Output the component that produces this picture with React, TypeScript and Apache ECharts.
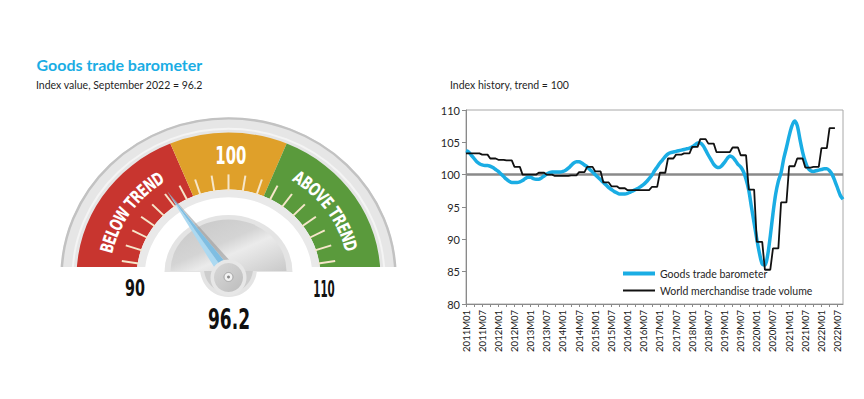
import React, { useEffect, useRef } from "react";
import * as echarts from "echarts";

// ---------------- data ----------------
const years = [2011, 2012, 2013, 2014, 2015, 2016, 2017, 2018, 2019, 2020, 2021, 2022];
const lastYearMonths = 9; // data runs to September 2022
const categories: string[] = [];
years.forEach((y) => {
  const n = y === 2022 ? lastYearMonths : 12;
  for (let m = 1; m <= n; m++) categories.push(`${y}M${String(m).padStart(2, "0")}`);
});

// Goods trade barometer, monthly 2011M01..2022M09
const barometerValues = [
  103.7, 103.5, 103.0, 102.5, 102.0, 101.7, 101.5, 101.4, 101.4, 101.3, 101.1, 100.8,
  100.5, 100.1, 99.7, 99.3, 99.0, 98.8, 98.8, 98.8, 98.9, 99.1, 99.4, 99.6,
  99.6, 99.4, 99.3, 99.3, 99.5, 99.8, 100.1, 100.3, 100.4, 100.4, 100.4, 100.4,
  100.5, 100.7, 101.0, 101.4, 101.8, 102.0, 102.0, 101.8, 101.5, 101.2, 100.8, 100.4,
  100.0, 99.6, 99.2, 98.8, 98.4, 98.0, 97.7, 97.4, 97.2, 97.0, 97.0, 97.0,
  97.1, 97.3, 97.5, 97.7, 97.9, 98.2, 98.5, 98.9, 99.4, 99.9, 100.6, 101.2,
  101.8, 102.3, 102.8, 103.2, 103.4, 103.5, 103.6, 103.7, 103.8, 103.9, 104.0, 104.1,
  104.3, 104.6, 104.9, 104.9, 104.5, 103.8, 103.0, 102.3, 101.6, 101.2, 101.1, 101.4,
  101.9, 102.5, 102.9, 102.7, 102.2, 101.6, 101.2, 100.5, 99.3, 97.6, 95.0, 92.5,
  90.0, 87.8, 86.2, 86.0, 87.5, 90.5, 94.0, 97.0, 99.0, 100.3, 102.5, 104.2,
  106.0, 107.5, 108.3, 107.6, 105.5, 103.5, 102.0, 101.0, 100.6, 100.5, 100.6, 100.7,
  100.8, 100.9, 100.9, 100.6, 100.0, 99.0, 97.9, 96.8, 96.2,
];

// World merchandise trade volume, quarterly 2011Q1..2022Q2
const tradeVolumeQuarterly = [
  103.3, 103.3, 103.1, 102.5,
  102.3, 102.2, 101.2, 100.0,
  100.0, 100.3, 100.0, 99.8,
  99.8, 99.9, 100.4, 101.2,
  100.5, 98.8, 98.2, 97.9,
  97.6, 97.6, 97.6, 98.1,
  100.3, 102.5, 103.1, 103.3,
  104.3, 105.5, 104.8, 103.5,
  103.5, 104.2, 103.0, 97.7,
  89.6, 85.3, 88.6, 95.7,
  101.3, 102.5, 101.1, 101.2,
  104.1, 107.2,
];

const yAxisMin = 80;
const yAxisMax = 110;
const yAxisStep = 5;
const trendLevel = 100;

const gaugeRange = [90, 110];
const gaugeZoneLimits = [90, 97.5, 102.5, 110];
const gaugeTickValues = [90, 91, 92, 93, 94, 95, 96, 97, 98, 99, 100, 101, 102, 103, 104, 105, 106, 107, 108, 109, 110];
const gaugeReading = 96.2;
const gaugeZoneTexts = ["BELOW TREND", "100", "ABOVE TREND"];
const gaugeEndLabels = ["90", "110"];

const seriesNames = ["Goods trade barometer", "World merchandise trade volume"];

// ---------------- styling ----------------
const FONT_COND = "'DejaVu Sans Condensed', 'Liberation Sans Narrow', Roboto, sans-serif";
const FONT_BODY = "Lato, 'Open Sans', sans-serif";
const BLUE = "#1aade4";

function buildGraphics(): any[] {
  const CX = 228.5;
  const CY = 277;
  const SY = 0.95;
  const ang = (v: number) => Math.PI + ((v - gaugeRange[0]) / (gaugeRange[1] - gaugeRange[0])) * Math.PI;
  const P = (r: number, a: number) => [CX + r * Math.cos(a), CY + r * Math.sin(a) * SY];
  const canvas = document.createElement("canvas");
  const ctx = canvas.getContext("2d")!;
  const measure = (t: string, fs: number) => {
    ctx.font = `bold ${fs}px ${FONT_COND}`;
    return ctx.measureText(t).width || fs * 0.6 * t.length;
  };
  const CAP = 0.73;
  const fitted = (t: string, cx: number, cy: number, capH: number, w: number, fill: string) => {
    const fs = capH / CAP;
    const mw = measure(t, fs);
    return {
      type: "text",
      x: cx,
      y: cy,
      scaleX: w / mw,
      style: { text: t, fill, fontSize: fs, fontFamily: FONT_COND, fontWeight: "bold", align: "center", verticalAlign: "middle" },
    };
  };
  const arcText = (t: string, centerDegUp: number, r: number, arcLen: number, capH: number) => {
    const fs = capH / CAP;
    const chars = t.split("");
    const widths = chars.map((c) => measure(c, fs));
    const W = widths.reduce((a, b) => a + b, 0);
    const k = arcLen / W;
    const aCenter = 2 * Math.PI - (centerDegUp * Math.PI) / 180;
    const aStart = aCenter - arcLen / (2 * r);
    let s = 0;
    const out: any[] = [];
    chars.forEach((c, i) => {
      const sc = s + (widths[i] * k) / 2;
      s += widths[i] * k;
      if (c === " ") return;
      const a = aStart + sc / r;
      const [x, y] = P(r, a);
      const dx = -Math.sin(a);
      const dy = Math.cos(a) * SY;
      out.push({
        type: "text",
        x,
        y,
        rotation: Math.atan2(-dy, dx),
        scaleX: k,
        style: { text: c, fill: "#ffffff", fontSize: fs, fontFamily: FONT_COND, fontWeight: "bold", align: "center", verticalAlign: "middle" },
      });
    });
    return out;
  };

  const zoneColors = ["#c8352f", "#dfa02a", "#5a9a3c"];
  const gc: any[] = [];
  // outer rim
  gc.push({ type: "sector", shape: { cx: 0, cy: 0, r0: 151, r: 168, startAngle: Math.PI, endAngle: 2 * Math.PI }, style: { fill: "#e6e6e6" } });
  gc.push({ type: "arc", shape: { cx: 0, cy: 0, r: 167, startAngle: Math.PI, endAngle: 2 * Math.PI }, style: { stroke: "#c2c2c2", lineWidth: 2.5, fill: "none" } });
  gc.push({ type: "arc", shape: { cx: 0, cy: 0, r: 156, startAngle: Math.PI, endAngle: 2 * Math.PI }, style: { stroke: "#f4f4f4", lineWidth: 2, fill: "none" } });
  // colored zones
  for (let i = 0; i < gaugeZoneLimits.length - 1; i++) {
    gc.push({
      type: "sector",
      shape: { cx: 0, cy: 0, r0: 92, r: 152, startAngle: ang(gaugeZoneLimits[i]), endAngle: ang(gaugeZoneLimits[i + 1]) },
      style: { fill: zoneColors[i] },
    });
  }
  // inner light ring
  gc.push({ type: "sector", shape: { cx: 0, cy: 0, r0: 84, r: 92, startAngle: Math.PI, endAngle: 2 * Math.PI }, style: { fill: "#e9e9e9" } });
  // ticks
  gaugeTickValues.forEach((v) => {
    const a = ang(v);
    gc.push({
      type: "line",
      shape: { x1: 91 * Math.cos(a), y1: 91 * Math.sin(a), x2: 108 * Math.cos(a), y2: 108 * Math.sin(a) },
      style: { stroke: "#f6e6ca", lineWidth: 2 },
    });
  });

  const els: any[] = [];
  els.push({ type: "group", x: CX, y: CY, scaleY: SY, children: gc });
  // flat cut at bottom
  els.push({ type: "rect", shape: { x: 50, y: 267, width: 360, height: 12 }, style: { fill: "#ffffff" } });

  // zone texts
  els.push(...arcText(gaugeZoneTexts[0], 145, 125, 100, 13));
  els.push(fitted(gaugeZoneTexts[1], 230.8, 156, 18, 31, "#ffffff"));
  els.push(...arcText(gaugeZoneTexts[2], 35.5, 126, 100, 13));

  // hub: pedestal + semicircle
  els.push({ type: "circle", shape: { cx: 228.5, cy: 268.5, r: 28.5 }, style: { fill: "#e4e4e4" } });
  els.push({
    type: "group",
    x: 228.5,
    y: 272,
    scaleY: 0.89,
    children: [
      { type: "sector", shape: { cx: 0, cy: 0, r0: 0, r: 64, startAngle: Math.PI, endAngle: 2 * Math.PI }, style: { fill: "#e4e4e4" } },
    ],
  });
  els.push({ type: "circle", shape: { cx: 228.5, cy: 268.5, r: 24.5 }, style: { fill: "#cdcdcd" } });
  els.push({
    type: "group",
    x: 228.5,
    y: 271,
    scaleY: 0.89,
    children: [
      {
        type: "sector",
        shape: { cx: 0, cy: 0, r0: 0, r: 58, startAngle: Math.PI, endAngle: 2 * Math.PI },
        style: {
          fill: new echarts.graphic.LinearGradient(0, 0, 1, 1, [
            { offset: 0, color: "#c6c6c6" },
            { offset: 0.45, color: "#d4d4d4" },
            { offset: 0.6, color: "#ebebeb" },
            { offset: 1, color: "#c9c9c9" },
          ]),
        },
      },
    ],
  });

  // needle
  const a = ang(gaugeReading);
  const ux0 = Math.cos(a);
  const uy0 = Math.sin(a) * SY;
  const ul = Math.hypot(ux0, uy0);
  const u = [ux0 / ul, uy0 / ul];
  const n = [-u[1], u[0]];
  const T = P(109, a);
  const B = [CX, CY];
  const hw = 7;
  const BL = [B[0] - n[0] * hw, B[1] - n[1] * hw];
  const BR = [B[0] + n[0] * hw, B[1] + n[1] * hw];
  const BS = [B[0] + n[0] * (hw + 5), B[1] + n[1] * (hw + 5)];
  els.push({ type: "polygon", shape: { points: [T, BR, BS] }, style: { fill: "#9a9a9a", opacity: 0.6 } });
  els.push({ type: "polygon", shape: { points: [T, B, BL] }, style: { fill: "#acd9f1" } });
  els.push({ type: "polygon", shape: { points: [T, B, BR] }, style: { fill: "#7fbee2" } });

  // knob
  els.push({ type: "circle", shape: { cx: 228.5, cy: 277.5, r: 18 }, style: { fill: "#e7e7e7" } });
  els.push({
    type: "circle",
    shape: { cx: 228.5, cy: 277.5, r: 14.5 },
    style: {
      fill: new echarts.graphic.LinearGradient(0, 0, 1, 1, [
        { offset: 0, color: "#d8d8d8" },
        { offset: 1, color: "#bdbdbd" },
      ]),
    },
  });
  els.push({ type: "circle", shape: { cx: 228.5, cy: 277, r: 4.5 }, style: { fill: "#f3f3f3", stroke: "#a5a5a5", lineWidth: 1 } });
  els.push({ type: "circle", shape: { cx: 228.5, cy: 277, r: 1.5 }, style: { fill: "#8a8a8a" } });

  // gauge labels
  els.push(fitted(gaugeEndLabels[0], 135, 288.5, 16.5, 20, "#111111"));
  els.push(fitted(gaugeEndLabels[1], 324, 288.5, 16.5, 21.5, "#111111"));
  els.push(fitted(String(gaugeReading), 229, 319, 21, 42, "#111111"));

  // titles
  els.push({
    type: "text",
    x: 36.5,
    y: 64.5,
    style: { text: "Goods trade barometer", fill: BLUE, fontSize: 16, fontWeight: "bold", fontFamily: FONT_BODY, align: "left", verticalAlign: "middle" },
  });
  els.push({
    type: "text",
    x: 36,
    y: 84.5,
    style: { text: `Index value, September 2022 = ${gaugeReading}`, fill: "#1f1f1f", fontSize: 10.5, fontFamily: FONT_BODY, align: "left", verticalAlign: "middle" },
  });
  els.push({
    type: "text",
    x: 450,
    y: 84.5,
    style: { text: `Index history, trend = ${trendLevel}`, fill: "#1f1f1f", fontSize: 10.5, fontFamily: FONT_BODY, align: "left", verticalAlign: "middle" },
  });
  return els;
}

export default function App() {
  const ref = useRef<HTMLDivElement>(null);
  useEffect(() => {
    if (!ref.current) return;
    const chart = echarts.init(ref.current, undefined, { renderer: "svg" });
    const volumeMonthly = categories.map((_, i) => {
      const q = Math.floor(i / 3);
      return q < tradeVolumeQuarterly.length ? tradeVolumeQuarterly[q] : null;
    });
    const option: any = {
      animation: false,
      backgroundColor: "#ffffff",
      grid: { left: 466, right: 21, top: 110, bottom: 95, show: true, borderColor: "#a8a8a8", borderWidth: 1 },
      xAxis: {
        type: "category",
        data: categories,
        boundaryGap: false,
        axisLine: { lineStyle: { color: "#8a8a8a", width: 1 } },
        axisTick: { show: true, interval: 2, length: 3, lineStyle: { color: "#8a8a8a" } },
        axisLabel: { interval: 5, rotate: 90, fontSize: 9.5, color: "#222222", fontFamily: FONT_BODY, margin: 6 },
        splitLine: { show: false },
      },
      yAxis: {
        type: "value",
        min: yAxisMin,
        max: yAxisMax,
        interval: yAxisStep,
        axisLine: { show: true, lineStyle: { color: "#8a8a8a" } },
        axisTick: { show: true, length: 4, lineStyle: { color: "#8a8a8a" } },
        axisLabel: { fontSize: 11, color: "#262626", fontFamily: FONT_BODY, margin: 6 },
        splitLine: { show: false },
      },
      legend: [
        {
          data: [seriesNames[0]],
          left: 623,
          top: 268,
          padding: 0,
          itemWidth: 32,
          itemHeight: 4,
          icon: "rect",
          selectedMode: false,
          textStyle: { fontSize: 10.5, color: "#1f1f1f", fontFamily: FONT_BODY },
        },
        {
          data: [seriesNames[1]],
          left: 623,
          top: 285,
          padding: 0,
          itemWidth: 32,
          itemHeight: 2,
          icon: "rect",
          selectedMode: false,
          textStyle: { fontSize: 10.5, color: "#1f1f1f", fontFamily: FONT_BODY },
        },
      ],
      series: [
        {
          name: seriesNames[0],
          type: "line",
          data: barometerValues,
          smooth: 0.3,
          showSymbol: false,
          symbol: "none",
          color: BLUE,
          lineStyle: { width: 3.5, color: BLUE },
          z: 3,
          silent: true,
        },
        {
          name: seriesNames[1],
          type: "line",
          data: volumeMonthly,
          showSymbol: false,
          symbol: "none",
          color: "#111111",
          lineStyle: { width: 1.8, color: "#111111" },
          z: 4,
          silent: true,
          markLine: {
            silent: true,
            symbol: "none",
            z: 1,
            label: { show: false },
            lineStyle: { color: "#8a8a8a", width: 2.5, type: "solid" },
            data: [{ yAxis: trendLevel }],
          },
        },
      ],
      graphic: { elements: buildGraphics() },
    };
    chart.setOption(option);
    return () => chart.dispose();
  }, []);
  return (
    <div
      ref={ref}
      style={{ position: "fixed", left: 0, top: 0, width: 864, height: 399, background: "#ffffff" }}
    />
  );
}
